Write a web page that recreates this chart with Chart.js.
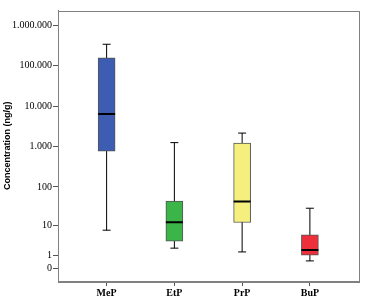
<!DOCTYPE html>
<html>
<head>
<meta charset="utf-8">
<script src="https://cdn.jsdelivr.net/npm/chart.js@4/dist/chart.umd.min.js"></script>
<style>
  body { margin: 0; background: #fff; }
  #wrap { width: 369px; height: 299px; }
</style>
</head>
<body>
<div id="wrap"><canvas id="myChart" width="369" height="299"></canvas></div>
<script>
// data (ng/g)
var categories = ['MeP', 'EtP', 'PrP', 'BuP'];
var whiskerLow = [7.6, 2.1, 1.5, 0.5];
var boxLow = [766, 3.6, 12.3, 1.07];
var medians = [6400, 12.5, 43, 1.8];
var boxHigh = [155000, 44, 1220, 5.6];
var whiskerHigh = [336000, 1250, 2150, 29];
var tickValues = [0, 1, 10, 100, 1000, 10000, 100000, 1000000];
var tickLabels = ['0', '1', '10', '100', '1.000', '10.000', '100.000', '1.000.000'];
var boxColors = ['#3d5db2', '#3cb548', '#f5f07d', '#ec2f3a'];

// axis is log10(value + 1)
function tr(v) { return Math.log10(v + 1); }

var whiskerData = categories.map(function(c, i) {
    return { x: i + 1, y: [tr(whiskerLow[i]), tr(whiskerHigh[i])] };
});
var boxData = categories.map(function(c, i) {
    return { x: i + 1, y: [tr(boxLow[i]), tr(boxHigh[i])] };
});
var medianData = categories.map(function(c, i) {
    return { x: i + 1, y: tr(medians[i]) };
});
var capData = [];
categories.forEach(function(c, i) {
    capData.push({ x: i + 1, y: tr(whiskerLow[i]) });
    capData.push({ x: i + 1, y: tr(whiskerHigh[i]) });
});

var frame = {
    id: 'frame',
    afterDatasetsDraw: function(chart) {
        var a = chart.chartArea, ctx = chart.ctx;
        ctx.save();
        ctx.strokeStyle = '#808080';
        ctx.lineWidth = 1;
        ctx.strokeRect(Math.round(a.left) + 0.5, Math.round(a.top) + 0.5,
            Math.round(a.right - a.left), Math.round(a.bottom - a.top));
        ctx.restore();
    }
};

var config = {
    type: 'bar',
    data: {
        datasets: [{
            type: 'scatter',
            data: medianData,
            pointStyle: 'line',
            pointRadius: 8.5,
            borderColor: '#000',
            borderWidth: 2,
            order: 0
        }, {
            data: boxData,
            grouped: false,
            barThickness: 17,
            backgroundColor: boxColors,
            borderColor: '#555',
            borderWidth: 1,
            borderSkipped: false,
            order: 1
        }, {
            type: 'scatter',
            data: capData,
            pointStyle: 'line',
            pointRadius: 4,
            borderColor: '#000',
            borderWidth: 1,
            order: 2
        }, {
            data: whiskerData,
            grouped: false,
            barThickness: 1,
            inflateAmount: 0,
            backgroundColor: '#000',
            borderWidth: 0,
            order: 3
        }]
    },
    plugins: [frame],
    options: {
        responsive: false,
        animation: false,
        layout: { padding: { top: 8, right: 5, left: 2 } },
        plugins: {
            legend: { display: false },
            tooltip: { enabled: false }
        },
        scales: {
            x: {
                type: 'linear',
                offset: false,
                min: 0.2826,
                max: 4.7174,
                afterBuildTicks: function(scale) {
                    scale.ticks = [1, 2, 3, 4].map(function(v) { return { value: v }; });
                },
                afterFit: function(scale) { scale.height = 18; },
                ticks: {
                    autoSkip: false,
                    maxRotation: 0,
                    padding: 1,
                    color: '#000',
                    font: { family: 'Liberation Serif', size: 10, weight: 'bold' },
                    callback: function(value, index) { return categories[index]; }
                },
                grid: { offset: false, drawOnChartArea: false, drawTicks: true, tickLength: 5, color: '#555' },
                border: { display: true, color: '#808080' }
            },
            y: {
                type: 'linear',
                min: -0.32,
                max: 6.36,
                afterBuildTicks: function(scale) {
                    scale.ticks = tickValues.map(function(v) { return { value: tr(v) }; });
                },
                afterFit: function(scale) { scale.width = 56; },
                ticks: {
                    autoSkip: false,
                    padding: 1,
                    color: '#000',
                    font: { family: 'Liberation Serif', size: 10 },
                    callback: function(value, index) { return tickLabels[index]; }
                },
                grid: { drawOnChartArea: false, drawTicks: true, tickLength: 5, color: '#555' },
                border: { display: true, color: '#808080' },
                title: {
                    display: true,
                    text: 'Concentration (ng/g)',
                    color: '#000',
                    padding: 0,
                    font: { family: 'Liberation Sans', size: 9, weight: 'bold' }
                }
            }
        }
    }
};

window.onload = function() {
    var ctx = document.getElementById('myChart').getContext('2d');
    window.boxChart = new Chart(ctx, config);
};
</script>
</body>
</html>
